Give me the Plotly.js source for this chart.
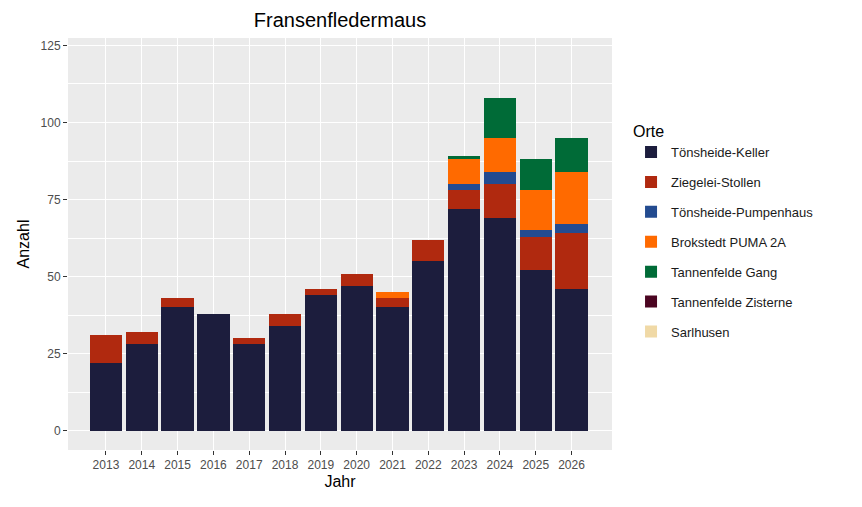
<!DOCTYPE html>
<html>
<head>
<meta charset="utf-8">
<script src="https://cdn.plot.ly/plotly-3.0.1.min.js"></script>
<style>body{margin:0}</style>
</head>
<body>
<div id="chart" style="width:862px;height:507px"></div>
<script>
const jahre = ["2013","2014","2015","2016","2017","2018","2019","2020","2021","2022","2023","2024","2025","2026"];
const keller     = [22, 28, 40, 38, 28, 34, 44, 47, 40, 55, 72, 69, 52, 46];
const ziegelei   = [9, 4, 3, 0, 2, 4, 2, 4, 3, 7, 6, 11, 11, 18];
const pumpenhaus = [0, 0, 0, 0, 0, 0, 0, 0, 0, 0, 2, 4, 2, 3];
const brokstedt  = [0, 0, 0, 0, 0, 0, 0, 0, 2, 0, 8, 11, 13, 17];
const gang       = [0, 0, 0, 0, 0, 0, 0, 0, 0, 0, 1, 13, 10, 11];
const zisterne   = [0, 0, 0, 0, 0, 0, 0, 0, 0, 0, 0, 0, 0, 0];
const sarlhusen  = [0, 0, 0, 0, 0, 0, 0, 0, 0, 0, 0, 0, 0, 0];

const serien = [
  { name: "Tönsheide-Keller", y: keller, farbe: "#1c1d3d" },
  { name: "Ziegelei-Stollen", y: ziegelei, farbe: "#b0290f" },
  { name: "Tönsheide-Pumpenhaus", y: pumpenhaus, farbe: "#234b90" },
  { name: "Brokstedt PUMA 2A", y: brokstedt, farbe: "#ff6a00" },
  { name: "Tannenfelde Gang", y: gang, farbe: "#006b37" },
  { name: "Tannenfelde Zisterne", y: zisterne, farbe: "#4b0521" },
  { name: "Sarlhusen", y: sarlhusen, farbe: "#f0d9a6" },
];

const daten = serien.map((s) => ({
  type: "bar",
  x: jahre,
  y: s.y,
  name: s.name,
  legendgroup: s.name,
  marker: { color: s.farbe, line: { width: 0 } },
  width: 0.9,
}));

const layout = {
  barmode: "stack",
  font: { family: "Liberation Sans, Arial", color: "#4d4d4d", size: 12 },
  title: { text: "Fransenfledermaus", x: 340 / 862, xanchor: "center", yref: "container", y: 1 - 20 / 507, yanchor: "middle", font: { size: 20, color: "#000" } },
  paper_bgcolor: "white",
  plot_bgcolor: "#ebebeb",
  margin: { l: 68, r: 250, t: 38, b: 57 },
  xaxis: {
    title: { text: "Jahr", font: { size: 16, color: "#000" }, standoff: 4 },
    type: "category",
    range: [-1.06, 14.13],
    showgrid: true, gridcolor: "white", gridwidth: 1.2,
    ticks: "outside", ticklen: 4, tickcolor: "#333",
    tickfont: { size: 12, color: "#4d4d4d" },
    zeroline: false,
  },
  yaxis: {
    title: { text: "Anzahl", font: { size: 16, color: "#000" }, standoff: 6 },
    range: [-6.25, 127.4],
    tickvals: [0, 25, 50, 75, 100, 125],
    showgrid: true, gridcolor: "white", gridwidth: 1.2,
    minor: { tickvals: [12.5, 37.5, 62.5, 87.5, 112.5], showgrid: true, gridcolor: "white", gridwidth: 0.5 },
    ticks: "outside", ticklen: 4, tickcolor: "#333",
    tickfont: { size: 12, color: "#4d4d4d" },
    zeroline: false,
  },
  showlegend: true,
  legend: {
    x: 1.035, xanchor: "left", y: 0.81, yanchor: "top",
    traceorder: "reversed+grouped",
    title: { text: "Orte", font: { size: 16, color: "#000" } },
    font: { size: 13, color: "#1a1a1a" },
    itemwidth: 30,
    tracegroupgap: 10,
  },
  bargap: 0.1,
};

Plotly.newPlot("chart", daten, layout, { displayModeBar: false });
</script>
</body>
</html>
